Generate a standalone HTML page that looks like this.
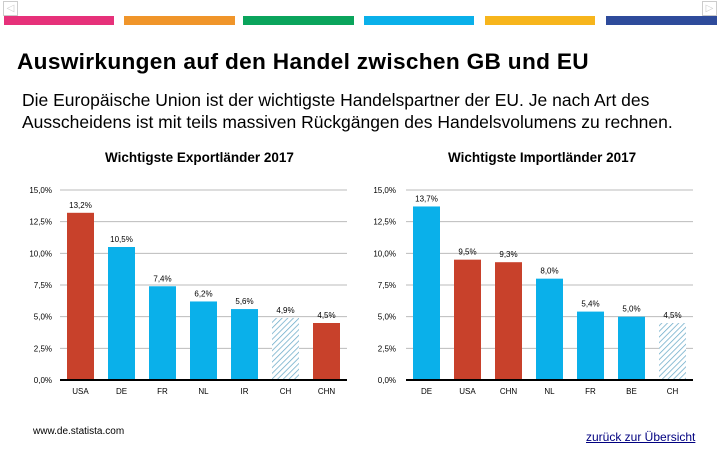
<!DOCTYPE html>
<html><head><meta charset="utf-8"><style>
body{margin:0;width:720px;height:450px;background:#fff;font-family:"Liberation Sans",sans-serif;position:relative;overflow:hidden}
.band{position:absolute;top:16px;height:9px}
.t{position:absolute;white-space:nowrap;color:#000}
</style></head><body>
<div class="band" style="left:4px;width:110px;background:#e6317a"></div>
<div class="band" style="left:124px;width:111px;background:#f0952a"></div>
<div class="band" style="left:243px;width:111px;background:#0aa45c"></div>
<div class="band" style="left:364px;width:110px;background:#0ab0ea"></div>
<div class="band" style="left:485px;width:110px;background:#f7b51c"></div>
<div class="band" style="left:606px;width:111px;background:#2e4b9b"></div>
<div class="t" style="left:3px;top:1px;width:13px;height:13px;border:1px solid #ccc;color:#ccc;font-size:10px;line-height:13px;text-align:center">◁</div>
<div class="t" style="left:702px;top:1px;width:13px;height:13px;border:1px solid #ccc;color:#ccc;font-size:10px;line-height:13px;text-align:center">▷</div>
<div class="t" style="left:17px;top:49px;font-size:22px;font-weight:bold;letter-spacing:0.3px;transform:scaleX(1.03);transform-origin:left">Auswirkungen auf den Handel zwischen GB und EU</div>
<div class="t" style="left:22px;top:89px;font-size:17.5px;line-height:22px;white-space:normal;width:695px">Die Europäische Union ist der wichtigste Handelspartner der EU. Je nach Art des Ausscheidens ist mit teils massiven Rückgängen des Handelsvolumens zu rechnen.</div>
<div class="t" style="left:105px;top:150px;font-size:13.5px;font-weight:bold">Wichtigste Exportländer 2017</div>
<div class="t" style="left:448px;top:150px;font-size:13.5px;font-weight:bold">Wichtigste Importländer 2017</div>
<svg id="chart" width="720" height="450" style="position:absolute;left:0;top:0">
<defs><pattern id="hatch" width="4" height="4" patternUnits="userSpaceOnUse" patternTransform="rotate(45)"><rect width="4" height="4" fill="#fff"/><line x1="0" y1="0" x2="0" y2="4" stroke="#6aaac8" stroke-width="1.5"/></pattern></defs>
</svg>
<div class="t" style="left:33px;top:426px;font-size:10px">www.de.statista.com</div>
<div class="t" style="left:586px;top:430px;font-size:12px;text-decoration:underline;color:#000080">zurück zur Übersicht</div>
<script>
const ticks=[0,2.5,5,7.5,10,12.5,15];
const tickLabels=["0,0%","2,5%","5,0%","7,5%","10,0%","12,5%","15,0%"];
const expCats=["USA","DE","FR","NL","IR","CH","CHN"];
const expVals=[13.2,10.5,7.4,6.2,5.6,4.9,4.5];
const expLabels=["13,2%","10,5%","7,4%","6,2%","5,6%","4,9%","4,5%"];
const expKind=["r","b","b","b","b","h","r"];
const impCats=["DE","USA","CHN","NL","FR","BE","CH"];
const impVals=[13.7,9.5,9.3,8.0,5.4,5.0,4.5];
const impLabels=["13,7%","9,5%","9,3%","8,0%","5,4%","5,0%","4,5%"];
const impKind=["b","r","r","b","b","b","h"];
const svg=document.getElementById('chart');const NS="http://www.w3.org/2000/svg";
function mk(t,a){const e=document.createElementNS(NS,t);for(const k in a)e.setAttribute(k,a[k]);svg.appendChild(e);return e;}
function draw(x0,axX,cats,vals,labels,kind,pre){
 const y=v=>380-v*(190/15),cw=41,bw=27;
 ticks.forEach((t,i)=>{
  if(i>0){const l=mk('line',{x1:x0,x2:x0+cw*7,y1:y(t),y2:y(t),stroke:'#bbb','stroke-width':1});
  }
  const tx=mk('text',{x:axX,y:y(t)+3,'font-size':8,'text-anchor':'end','font-family':'Liberation Sans'});tx.textContent=tickLabels[i];
  
 });
 cats.forEach((c,i)=>{
  const cx=x0+cw*i+cw/2;
  const fill=kind[i]=='r'?'#c8412b':kind[i]=='b'?'#0ab0ea':'url(#hatch)';
  const r=mk('rect',{x:cx-bw/2,y:y(vals[i]),width:bw,height:y(0)-y(vals[i]),fill:fill});
  
  const v=mk('text',{x:cx,y:y(vals[i])-5,'font-size':8,'text-anchor':'middle','font-family':'Liberation Sans'});v.textContent=labels[i];
  
  const cl=mk('text',{x:cx,y:394,'font-size':8,'text-anchor':'middle','font-family':'Liberation Sans'});cl.textContent=c;
  
 });
 const b=mk('line',{x1:x0,x2:x0+cw*7,y1:380,y2:380,stroke:'#000','stroke-width':2});
 
}
draw(60,52,expCats,expVals,expLabels,expKind,'export');
draw(406,396,impCats,impVals,impLabels,impKind,'import');
</script>
</body></html>
